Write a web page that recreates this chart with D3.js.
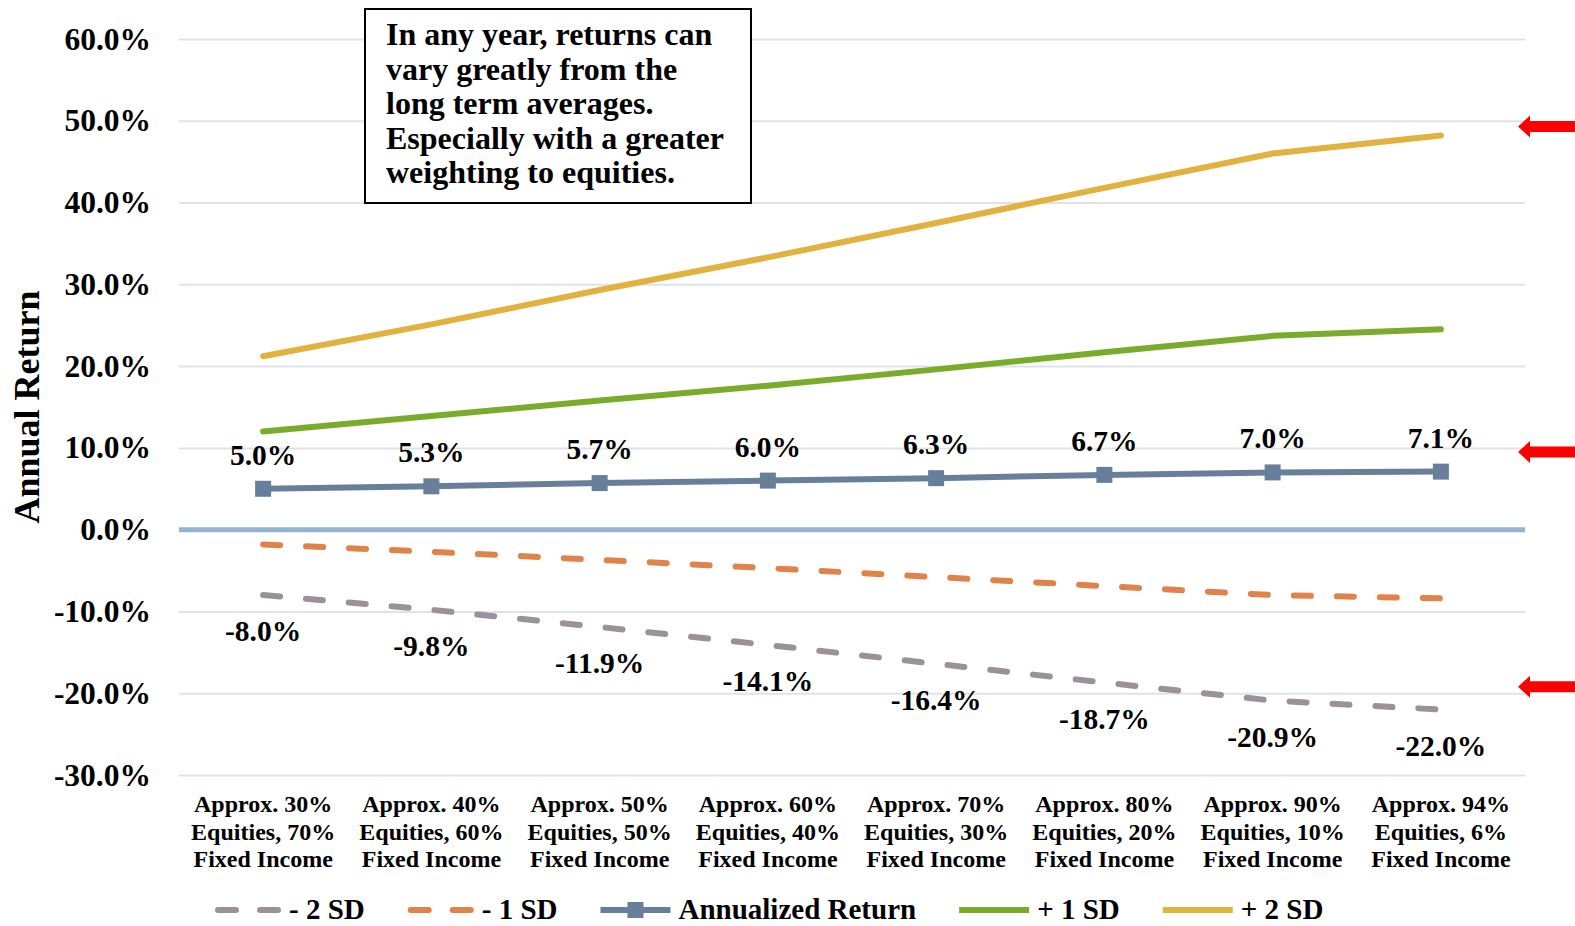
<!DOCTYPE html>
<html>
<head>
<meta charset="utf-8">
<script src="https://cdn.jsdelivr.net/npm/d3@7"></script>
<style>
  body { margin: 0; background: #fff; }
  svg { display: block; font-family: "Liberation Serif", "Times New Roman", serif; font-weight: bold; }
</style>
</head>
<body>
<svg id="chart" width="1575" height="926"></svg>
<script>
// categories (x axis, three lines each)
var categories = [
  ["Approx. 30%", "Equities, 70%", "Fixed Income"],
  ["Approx. 40%", "Equities, 60%", "Fixed Income"],
  ["Approx. 50%", "Equities, 50%", "Fixed Income"],
  ["Approx. 60%", "Equities, 40%", "Fixed Income"],
  ["Approx. 70%", "Equities, 30%", "Fixed Income"],
  ["Approx. 80%", "Equities, 20%", "Fixed Income"],
  ["Approx. 90%", "Equities, 10%", "Fixed Income"],
  ["Approx. 94%", "Equities, 6%", "Fixed Income"]
];

// series values (percent)
var minus2SD = [-8.0, -9.8, -11.9, -14.1, -16.4, -18.7, -20.9, -22.0];
var minus1SD = [-1.8, -2.7, -3.7, -4.7, -5.8, -6.9, -8.0, -8.4];
var annualized = [5.0, 5.3, 5.7, 6.0, 6.3, 6.7, 7.0, 7.1];
var plus1SD = [12.0, 13.9, 15.8, 17.6, 19.6, 21.7, 23.7, 24.5];
var plus2SD = [21.2, 25.1, 29.3, 33.3, 37.5, 41.8, 46.0, 48.2];

// y ticks
var yTicks = [-30, -20, -10, 0, 10, 20, 30, 40, 50, 60];

// red arrow levels (percent)
var arrowLevels = [49.3, 9.5, -19.2];

var noteLines = [
  "In any year, returns can",
  "vary greatly from the",
  "long term averages.",
  "Especially with a greater",
  "weighting to equities."
];

var series = [
  { name: "- 2 SD", values: minus2SD, color: "#9b9199", dash: "17,26", labels: true, below: true },
  { name: "- 1 SD", values: minus1SD, color: "#e0834a", dash: "17,26" },
  { name: "Annualized Return", values: annualized, color: "#687f9c", marker: true, labels: true },
  { name: "+ 1 SD", values: plus1SD, color: "#7aac2c" },
  { name: "+ 2 SD", values: plus2SD, color: "#e2b240" }
];

var margin = { left: 179, right: 50, top: 39, bottom: 151 };
var W = 1575, H = 926;

var svg = d3.select("#chart");

var x = d3.scaleBand()
  .domain(d3.range(categories.length))
  .range([margin.left, W - margin.right]);

var y = d3.scaleLinear()
  .domain([-30, 60])
  .range([H - margin.bottom, margin.top]);

var cx = function(i) { return x(i) + x.bandwidth() / 2; };

// gridlines + y labels
var yAxis = svg.append("g")
  .attr("transform", "translate(" + margin.left + ",0)")
  .call(d3.axisLeft(y)
    .tickValues(yTicks)
    .tickSize(-(W - margin.right - margin.left))
    .tickPadding(28)
    .tickFormat(function(d) { return d.toFixed(1) + "%"; }));
yAxis.select(".domain").remove();
yAxis.selectAll(".tick line").attr("stroke", "#dfe3e9").attr("stroke-width", 2);
yAxis.selectAll(".tick text")
  .attr("fill", "#000")
  .style("font-size", "31.5px")
  .style("font-family", "Liberation Serif, Times New Roman, serif")
  .style("font-weight", "bold");

// zero line
svg.append("line")
  .attr("x1", margin.left).attr("x2", W - margin.right)
  .attr("y1", y(0)).attr("y2", y(0))
  .attr("stroke", "#93b4d4").attr("stroke-width", 5);

// y axis title
svg.append("text")
  .attr("transform", "translate(27,407) rotate(-90)")
  .attr("text-anchor", "middle")
  .attr("dominant-baseline", "central")
  .style("font-size", "36px")
  .text("Annual Return");

// category labels
var catG = svg.append("g");
categories.forEach(function(lines, i) {
  var t = catG.append("text")
    .attr("text-anchor", "middle")
    .style("font-size", "24px");
  lines.forEach(function(l, k) {
    t.append("tspan").attr("x", cx(i)).attr("y", 812 + k * 27.5).text(l);
  });
});

// lines
var line = d3.line()
  .x(function(d, i) { return cx(i); })
  .y(function(d) { return y(d); });

series.forEach(function(s) {
  svg.append("path")
    .datum(s.values)
    .attr("d", line)
    .attr("fill", "none")
    .attr("stroke", s.color)
    .attr("stroke-width", 6)
    .attr("stroke-linecap", "round")
    .attr("stroke-linejoin", "round")
    .attr("stroke-dasharray", s.dash || null);

  if (s.marker) {
    svg.append("g").selectAll("rect")
      .data(s.values)
      .enter().append("rect")
      .attr("x", function(d, i) { return cx(i) - 8; })
      .attr("y", function(d) { return y(d) - 8; })
      .attr("width", 16).attr("height", 16)
      .attr("fill", s.color);
  }

  if (s.labels) {
    svg.append("g").selectAll("text")
      .data(s.values)
      .enter().append("text")
      .attr("x", function(d, i) { return cx(i); })
      .attr("y", function(d) { return s.below ? y(d) + 46 : y(d) - 24; })
      .attr("text-anchor", "middle")
      .style("font-size", "29.5px")
      .text(function(d) { return d.toFixed(1) + "%"; });
  }
});

// note box
svg.append("rect")
  .attr("x", 365).attr("y", 9)
  .attr("width", 386).attr("height", 194)
  .attr("fill", "#fff")
  .attr("stroke", "#000").attr("stroke-width", 2);
var note = svg.append("text").style("font-size", "32px");
noteLines.forEach(function(l, k) {
  note.append("tspan").attr("x", 386).attr("y", 45 + k * 34.6).text(l);
});

// red arrows on the right
var arrowTip = W - margin.right - 7;
svg.append("g").selectAll("path")
  .data(arrowLevels)
  .enter().append("path")
  .attr("d", function(v) {
    var yy = y(v);
    return "M" + arrowTip + "," + yy +
      " L" + (arrowTip + 12) + "," + (yy - 11) +
      " L" + (arrowTip + 12) + "," + (yy - 5.5) +
      " L" + W + "," + (yy - 5.5) +
      " L" + W + "," + (yy + 5.5) +
      " L" + (arrowTip + 12) + "," + (yy + 5.5) +
      " L" + (arrowTip + 12) + "," + (yy + 11) + " Z";
  })
  .attr("fill", "#ff0000");

// legend
var legend = svg.append("g");
var lx = 215, ly = 910;
series.forEach(function(s) {
  var len = s.dash ? 66 : 70;
  legend.append("line")
    .attr("x1", lx + (s.dash ? 3 : 0)).attr("x2", lx + len - (s.dash ? 3 : 0))
    .attr("y1", ly).attr("y2", ly)
    .attr("stroke", s.color).attr("stroke-width", 6)
    .attr("stroke-linecap", s.dash ? "round" : "butt")
    .attr("stroke-dasharray", s.dash ? "18,24" : null);
  if (s.marker) {
    legend.append("rect")
      .attr("x", lx + len / 2 - 8).attr("y", ly - 8)
      .attr("width", 16).attr("height", 16)
      .attr("fill", s.color);
  }
  var t = legend.append("text")
    .attr("x", lx + len + 8).attr("y", ly + 9)
    .style("font-size", "29px")
    .text(s.name);
  lx = lx + len + 8 + t.node().getComputedTextLength() + 43;
});
</script>
</body>
</html>
